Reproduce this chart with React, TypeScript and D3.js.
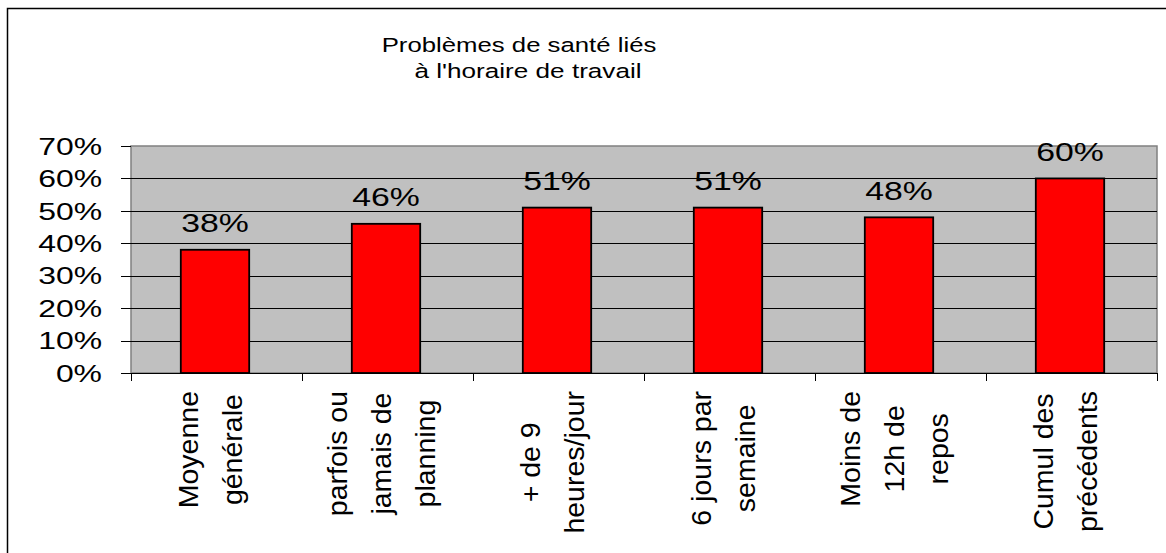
import React from "react";
import * as d3 from "d3";

const titleLines = ["Problèmes de santé liés", "à l'horaire de travail"];
const categories: string[][] = [
  ["Moyenne", "générale"],
  ["parfois ou", "jamais de", "planning"],
  ["+ de 9", "heures/jour"],
  ["6 jours par", "semaine"],
  ["Moins de", "12h de", "repos"],
  ["Cumul des", "précédents"],
];
const values = [0.38, 0.46, 0.51, 0.51, 0.48, 0.6];
const yTicks = [0, 0.1, 0.2, 0.3, 0.4, 0.5, 0.6, 0.7];

const W = 1166;
const H = 553;
const FONT = '"Liberation Sans", Arial, sans-serif';
const PLOT = { left: 131, right: 1157, top: 146, bottom: 373 };
const ROT_FONT = 28.5;

let measureCtx: CanvasRenderingContext2D | null = null;
function textWidth(s: string, size: number): number {
  if (!measureCtx) {
    const c = document.createElement("canvas");
    measureCtx = c.getContext("2d");
  }
  if (!measureCtx) return s.length * size * 0.5;
  measureCtx.font = `${size}px "Liberation Sans"`;
  return measureCtx.measureText(s).width;
}

export default function App() {
  const idx = categories.map((_, i) => String(i));
  const x = d3
    .scaleBand<string>()
    .domain(idx)
    .range([PLOT.left - 1.5, PLOT.right - 1.5])
    .paddingInner(0.6)
    .paddingOuter(0.3);
  const xCat = d3.scaleBand<string>().domain(idx).range([PLOT.left, PLOT.right]);
  const y = d3.scaleLinear().domain([0, 0.7]).range([PLOT.bottom, PLOT.top]);
  const fmt = d3.format(".0%");

  const boundaries = d3.range(categories.length + 1).map((i) => PLOT.left + i * xCat.step());

  return (
    <svg
      width={W}
      height={H}
      style={{ position: "absolute", left: 0, top: 0, background: "#fff" }}
      fontFamily={FONT}
    >
      {/* outer frame */}
      <rect x={7.5} y={8.5} width={W + 20} height={H + 20} fill="#fff" stroke="#000" strokeWidth={1.5} />

      {/* title */}
      <g fill="#000" fontSize={19.5}>
        <text transform={`translate(519,51.5) scale(1.32,1)`} textAnchor="middle">
          {titleLines[0]}
        </text>
        <text transform={`translate(528,78) scale(1.34,1)`} textAnchor="middle">
          {titleLines[1]}
        </text>
      </g>

      {/* plot area */}
      <rect
        x={PLOT.left}
        y={PLOT.top}
        width={PLOT.right - PLOT.left}
        height={PLOT.bottom - PLOT.top}
        fill="#C0C0C0"
        stroke="#808080"
        strokeWidth={1.5}
      />
      {yTicks
        .filter((t) => t > 0 && t < 0.7)
        .map((t) => (
          <line
            key={"g" + t}
            x1={PLOT.left}
            x2={PLOT.right}
            y1={Math.round(y(t)) + 0.5}
            y2={Math.round(y(t)) + 0.5}
            stroke="#000"
            strokeWidth={1}
          />
        ))}

      {/* y axis ticks and labels */}
      {yTicks.map((t) => (
        <g key={"y" + t}>
          <line
            x1={PLOT.left - 10}
            x2={PLOT.left}
            y1={Math.round(y(t)) + 0.5}
            y2={Math.round(y(t)) + 0.5}
            stroke="#000"
            strokeWidth={1}
          />
          <text
            transform={`translate(102,${y(t) + 8.7}) scale(1.33,1)`}
            textAnchor="end"
            fontSize={24}
            fill="#000"
          >
            {fmt(t)}
          </text>
        </g>
      ))}

      {/* bars */}
      {values.map((v, i) => (
        <rect
          key={"b" + i}
          x={x(String(i))!}
          y={y(v)}
          width={x.bandwidth()}
          height={y(0) - y(v)}
          fill="#FF0000"
          stroke="#000"
          strokeWidth={1.8}
        />
      ))}

      {/* data labels */}
      {values.map((v, i) => (
        <text
          key={"l" + i}
          transform={`translate(${x(String(i))! + x.bandwidth() / 2},${y(v) - 17.5}) scale(1.3,1)`}
          textAnchor="middle"
          fontSize={26}
          fill="#000"
        >
          {fmt(v)}
        </text>
      ))}

      {/* x axis */}
      <line x1={PLOT.left} x2={PLOT.right} y1={PLOT.bottom + 0.5} y2={PLOT.bottom + 0.5} stroke="#000" strokeWidth={1} />
      {boundaries.map((bx, i) => (
        <line
          key={"t" + i}
          x1={Math.round(bx) + 0.5}
          x2={Math.round(bx) + 0.5}
          y1={PLOT.bottom}
          y2={PLOT.bottom + 8}
          stroke="#000"
          strokeWidth={1}
        />
      ))}

      {/* category labels (rotated) */}
      {categories.map((lines, i) => {
        const cx = xCat(String(i))! + xCat.bandwidth() / 2 + 3;
        const maxLen = d3.max(lines, (l) => textWidth(l, ROT_FONT)) || 0;
        const cy = 391 + maxLen / 2;
        const spacing = 44;
        return lines.map((l, j) => {
          const bx = cx + (j - (lines.length - 1) / 2) * spacing;
          return (
            <text
              key={"c" + i + "_" + j}
              transform={`translate(${bx},${cy}) rotate(-90)`}
              textAnchor="middle"
              fontSize={ROT_FONT}
              fill="#000"
            >
              {l}
            </text>
          );
        });
      })}
    </svg>
  );
}
